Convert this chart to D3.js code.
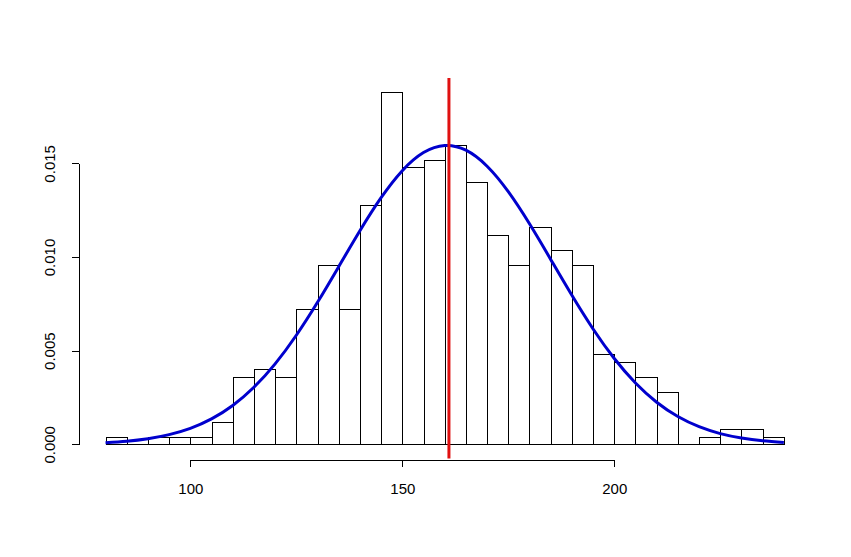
<!DOCTYPE html>
<html>
<head>
<meta charset="utf-8">
<script src="https://cdn.jsdelivr.net/npm/d3@7"></script>
<style>
  html, body { margin: 0; padding: 0; background: #fff; }
  svg { display: block; font-family: "Liberation Sans", Arial, sans-serif; }
</style>
</head>
<body>
<svg id="chart" width="851" height="557"></svg>
<script>
// Histogram bin edges (width 5)
const breaks = [80,85,90,95,100,105,110,115,120,125,130,135,140,145,150,155,160,
                165,170,175,180,185,190,195,200,205,210,215,220,225,230,235,240];
// Density per bin
const densities = [0.0004,0,0.0004,0.0004,0.0004,0.0012,0.0036,0.0040,0.0036,0.0072,
                   0.0096,0.0072,0.0128,0.0188,0.0148,0.0152,0.0160,0.0140,0.0112,0.0096,
                   0.0116,0.0104,0.0096,0.0048,0.0044,0.0036,0.0028,0,0.0004,0.0008,
                   0.0008,0.0004];
// Fitted density curve
const curveX = [80,85,90,95,100,105,110,115,120,125,130,135,140,145,150,155,160,
                165,170,175,180,185,190,195,200,205,210,215,220,225,230,235,240];
const curveY = [0.000089,0.000167,0.000299,0.000516,0.000853,0.001358,0.002075,0.003046,
                0.004296,0.005823,0.007582,0.009486,0.011402,0.013168,0.014611,0.015576,
                0.015955,0.015702,0.014847,0.013488,0.011772,0.009873,0.007955,0.006158,
                0.004580,0.003273,0.002247,0.001483,0.000940,0.000572,0.000335,0.000188,
                0.000102];
// Vertical marker
const markerX = 161;
// Tick labels
const xTicks = [100, 150, 200];
const yTicks = [0, 0.005, 0.010, 0.015];

const svg = d3.select("#chart");
svg.append("rect").attr("width", 851).attr("height", 557).attr("fill", "#fff");

const x = d3.scaleLinear().domain([73.6, 246.4]).range([78.4, 811]);
const y = d3.scaleLinear().domain([-0.000752, 0.019552]).range([458.4, 78.1]);

// Bars
const bins = densities.map((d, i) => ({x0: breaks[i], x1: breaks[i + 1], d}));
const snap = v => Math.round(v) + 0.5;
svg.append("g")
  .selectAll("path")
  .data(bins)
  .join("path")
  .attr("d", b => {
    const x0 = snap(x(b.x0)), x1 = snap(x(b.x1));
    const y0 = snap(y(0)), y1 = snap(y(b.d));
    return `M${x0},${y0}V${y1}H${x1}V${y0}Z`;
  })
  .attr("fill", "none")
  .attr("stroke", "#000")
  .attr("stroke-width", 1)
  .attr("shape-rendering", "crispEdges");

// Curve
const line = d3.line()
  .x((d, i) => x(curveX[i]))
  .y(d => y(d))
  .curve(d3.curveNatural);
svg.append("path")
  .datum(curveY)
  .attr("d", line)
  .attr("fill", "none")
  .attr("stroke", "#0000CD")
  .attr("stroke-width", 3)
  .attr("stroke-linejoin", "round");

// Vertical red line across plot region
svg.append("line")
  .attr("x1", x(markerX)).attr("x2", x(markerX))
  .attr("y1", y.range()[1]).attr("y2", y.range()[0])
  .attr("stroke", "#E01010")
  .attr("stroke-width", 3);

// X axis (spans first to last tick, R style)
const xAxisScale = x.copy().domain([100, 200]).range([x(100), x(200)]);
const gx = svg.append("g")
  .attr("transform", "translate(0,459.5)")
  .call(d3.axisBottom(xAxisScale).tickValues(xTicks).tickSize(7).tickSizeOuter(0).tickFormat(d3.format("d")));
gx.selectAll("path,line").attr("stroke", "#000").attr("shape-rendering", "crispEdges");
gx.selectAll("text")
  .attr("y", 34.5).attr("dy", 0)
  .attr("font-size", 15)
  .attr("font-family", "Liberation Sans, Arial, sans-serif")
  .attr("fill", "#000");

// Y axis
const yAxisScale = y.copy().domain([0, 0.015]).range([y(0), y(0.015)]);
const gy = svg.append("g")
  .attr("transform", "translate(78.5,0)")
  .call(d3.axisLeft(yAxisScale).tickValues(yTicks).tickSize(7).tickSizeOuter(0).tickFormat(d3.format(".3f")));
gy.selectAll("path,line").attr("stroke", "#000").attr("shape-rendering", "crispEdges");
gy.selectAll("text")
  .attr("transform", "rotate(-90)")
  .attr("x", 0).attr("y", -29 + 0.358 * 15).attr("dy", 0)
  .attr("text-anchor", "middle")
  .attr("font-size", 15)
  .attr("font-family", "Liberation Sans, Arial, sans-serif")
  .attr("fill", "#000");
</script>
</body>
</html>
